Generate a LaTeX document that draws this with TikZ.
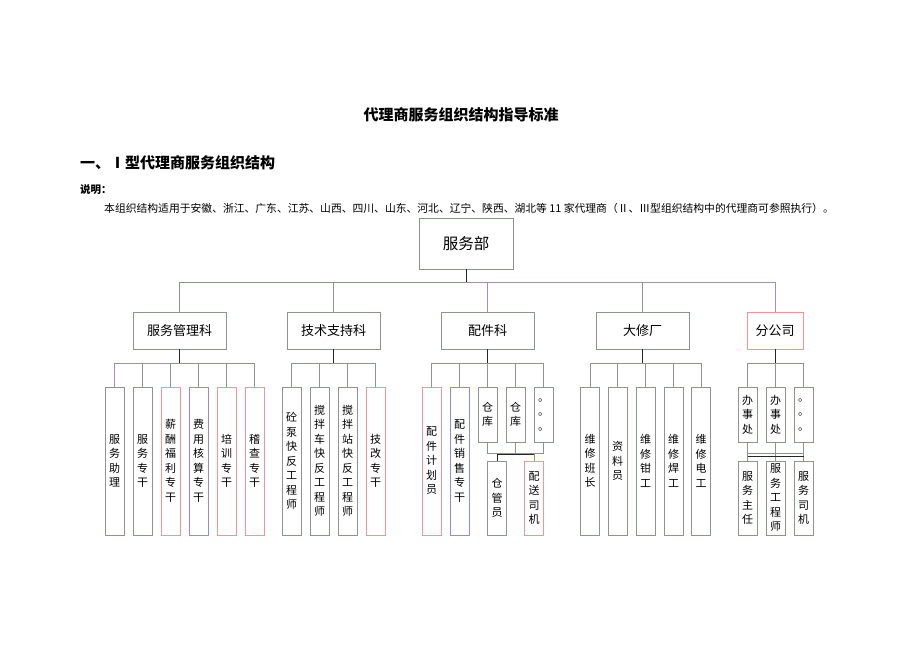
\documentclass[tikz,border=0pt]{standalone}
\usepackage{fontspec}
\setmainfont{Noto Sans CJK SC}
\definecolor{lgray}{RGB}{140,150,140}
\definecolor{lpurp}{RGB}{165,145,175}
\definecolor{pinkc}{RGB}{240,150,150}
\definecolor{bluec}{RGB}{140,140,240}
\begin{document}
\begin{tikzpicture}[x=1pt,y=-1pt,
  box/.style={draw=lgray, line width=0.8pt, inner sep=0pt, align=center, fill=white},
  vbox/.style={box, minimum width=19pt, font=\fontsize{11}{14.5}\selectfont},
  tall/.style={vbox, minimum height=148pt},
  short/.style={vbox, minimum height=55pt},
  low/.style={vbox, minimum height=74pt},
  mid/.style={box, minimum width=93pt, minimum height=37pt, font=\fontsize{13}{15}\selectfont},
  conn/.style={draw=lgray, line width=0.8pt},
  pconn/.style={draw=lpurp, line width=0.8pt},
  dk/.style={draw=black!85, line width=0.9pt},
  pinkb/.style={draw=pinkc},
  blueb/.style={draw=bluec},
  txt/.style={inner sep=0pt}]
\fill[white] (0,0) rectangle (920,651);
\useasboundingbox (0,0) rectangle (920,651);

% texts
\node[txt, font=\bfseries\fontsize{15}{18}\selectfont] (title) at (461,115) {代理商服务组织结构指导标准};
\node[txt, anchor=west, font=\bfseries\fontsize{15}{18}\selectfont] (head) at (80,163) {一、Ⅰ型代理商服务组织结构};
\node[txt, anchor=west, font=\bfseries\fontsize{10.5}{12}\selectfont] (note) at (80,190) {说明：};
\node[txt, anchor=west, font=\fontsize{10.8}{13}\selectfont] (body) at (104,208) {本组织结构适用于安徽、浙江、广东、江苏、山西、四川、山东、河北、辽宁、陕西、湖北等 11 家代理商（Ⅱ、Ⅲ型组织结构中的代理商可参照执行）。};

% bus coordinates
\coordinate (bus0) at (0,282);
\coordinate (bus1) at (0,363);
\coordinate (busA) at (0,453);
\coordinate (busB) at (0,454);
\coordinate (busC) at (0,456);

% top
\node[box, minimum width=94pt, minimum height=51pt, font=\fontsize{15.5}{18}\selectfont] (fwb) at (466,243.5) {服务部};

% second level
\node[mid] (smk) at (179.5,330.5) {服务管理科};
\node[mid] (jsk) at (333.5,330.5) {技术支持科};
\node[mid] (pjk) at (487.5,330.5) {配件科};
\node[mid] (dxc) at (642.5,330.5) {大修厂};
\node[mid, pinkb, minimum width=56pt] (fgs) at (775,330.5) {分公司};

% level 1 connectors
\draw[conn] (smk.north) -- (smk.north |- bus0) -- (fwb.south |- bus0);
\draw[pconn] (fwb.south |- bus0) -- (fgs.north |- bus0) -- (fgs.north);
\draw[conn] (jsk.north) -- (jsk.north |- bus0);
\draw[pconn] (pjk.north) -- (pjk.north |- bus0);
\draw[conn] (dxc.north) -- (dxc.north |- bus0);
\draw[dk] (fwb.south) -- (fwb.south |- bus0);

% service management children
\node[tall] (s1) at (114.5,461) {服\\务\\助\\理};
\node[tall] (s2) at (142.5,461) {服\\务\\专\\干};
\node[tall, pinkb] (s3) at (170.5,461) {薪\\酬\\福\\利\\专\\干};
\node[tall, blueb] (s4) at (198.5,461) {费\\用\\核\\算\\专\\干};
\node[tall, pinkb] (s5) at (226.5,461) {培\\训\\专\\干};
\node[tall, pinkb] (s6) at (254.5,461) {稽\\查\\专\\干};
\draw[pconn] (s1.north) -- (s1.north |- bus1) -- (s3.north |- bus1);
\draw[conn] (s3.north |- bus1) -- (s6.north |- bus1) -- (s6.north);
\foreach \n in {s2,s3,s4,s5} \draw[conn] (\n.north) -- (\n.north |- bus1);
\draw[dk] (smk.south) -- (smk.south |- bus1);

% technical support children
\node[tall] (t1) at (291.5,461) {砼\\泵\\快\\反\\工\\程\\师};
\node[tall] (t2) at (319.5,461) {搅\\拌\\车\\快\\反\\工\\程\\师};
\node[tall] (t3) at (347.5,461) {搅\\拌\\站\\快\\反\\工\\程\\师};
\node[tall, pinkb] (t4) at (375.5,461) {技\\改\\专\\干};
\draw[conn] (t1.north) -- (t1.north |- bus1) -- (t4.north |- bus1) -- (t4.north);
\foreach \n in {t2,t3} \draw[conn] (\n.north) -- (\n.north |- bus1);
\draw[dk] (jsk.south) -- (jsk.south |- bus1);

% parts children
\node[tall, pinkb] (p1) at (431.5,461) {配\\件\\计\\划\\员};
\node[tall, blueb] (p2) at (459.5,461) {配\\件\\销\\售\\专\\干};
\node[short] (p3) at (487.5,414.5) {仓\\库};
\node[short] (p4) at (515.5,414.5) {仓\\库};
\node[short] (p5) at (543.5,414.5) {。\\。\\。};
\node[low] (q1) at (497,498) {仓\\管\\员};
\node[low, pinkb] (q2) at (534,498) {配\\送\\司\\机};
\draw[conn] (p1.north) -- (p1.north |- bus1) -- (p5.north |- bus1) -- (p5.north);
\foreach \n in {p2,p3,p4} \draw[conn] (\n.north) -- (\n.north |- bus1);
\draw[dk] (pjk.south) -- (pjk.south |- bus1);
\draw[conn] (p3.south) -- (p3.south |- busA) -- (p5.south |- busA) -- (p5.south);
\draw[conn] (p4.south) -- (p4.south |- busA);
\draw[dk] (q1.north) -- (q1.north |- busB) -- (q2.north |- busB);
\draw[conn] (q2.north) -- (q2.north |- busB);

% workshop children
\node[tall] (d1) at (590,461) {维\\修\\班\\长};
\node[tall] (d2) at (617.5,461) {资\\料\\员};
\node[tall] (d3) at (645.5,461) {维\\修\\钳\\工};
\node[tall] (d4) at (673.5,461) {维\\修\\焊\\工};
\node[tall] (d5) at (701,461) {维\\修\\电\\工};
\draw[conn] (d1.north) -- (d1.north |- bus1) -- (d5.north |- bus1) -- (d5.north);
\foreach \n in {d2,d3,d4} \draw[conn] (\n.north) -- (\n.north |- bus1);
\draw[dk] (dxc.south) -- (dxc.south |- bus1);

% branch children
\node[short] (f1) at (747.5,414.5) {办\\事\\处};
\node[short] (f2) at (775.5,414.5) {办\\事\\处};
\node[short] (f3) at (803.5,414.5) {。\\。\\。};
\node[low] (g1) at (747.5,498) {服\\务\\主\\任};
\node[low] (g2) at (775.5,498) {服\\务\\工\\程\\师};
\node[low] (g3) at (803.5,498) {服\\务\\司\\机};
\draw[conn] (f1.north) -- (f1.north |- bus1) -- (f3.north |- bus1) -- (f3.north);
\draw[conn] (f2.north) -- (f2.north |- bus1);
\draw[dk] (fgs.south) -- (fgs.south |- bus1);
\draw[conn] (f1.south) -- (g1.north);
\draw[conn] (f2.south) -- (g2.north);
\draw[conn] (f3.south) -- (g3.north);
\draw[conn] (f1.south |- busA) -- (f3.south |- busA);
\draw[dk] (g1.north |- busC) -- (g3.north |- busC);
\end{tikzpicture}
\end{document}
